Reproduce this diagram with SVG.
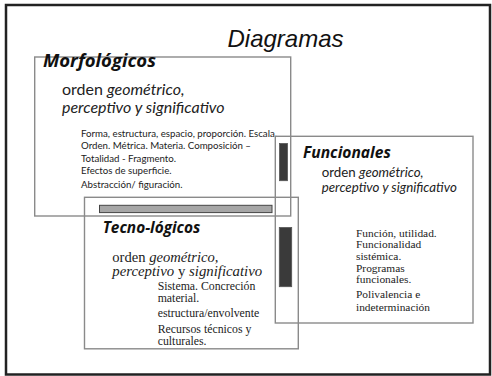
<svg xmlns="http://www.w3.org/2000/svg" width="492" height="376" viewBox="0 0 492 376">
<style>
.box{fill:none;stroke:#8a8a8a;stroke-width:1.4}
.h{font-family:"Open Sans",Lato,sans-serif;font-weight:bold;font-style:italic;fill:#111}
.s{font-family:Lato,"Liberation Sans",sans-serif;fill:#222}
.sf{font-family:"Liberation Serif",serif;fill:#222}
.i{font-style:italic}
</style>
<rect x="6" y="5" width="484" height="369.5" fill="#fff" stroke="#222" stroke-width="2.5"/>
<text x="227.5" y="47.3" font-family="'Liberation Sans',Arial,sans-serif" font-style="italic" font-size="24" fill="#111">Diagramas</text>
<g id="morfologicos">
<rect class="box" x="34.7" y="57" width="256" height="159"/>
<text class="h" x="43" y="67" font-size="18.5">Morfológicos</text>
<text class="s" x="62" y="95" font-size="16">orden <tspan class="i">geométrico,</tspan></text>
<text class="s i" x="62" y="113" font-size="16">perceptivo y significativo</text>
<g class="s" font-size="9.7">
<text x="81" y="136.7">Forma, estructura, espacio, proporción. Escala.</text>
<text x="81" y="149.3">Orden. Métrica. Materia. Composición –</text>
<text x="81" y="161.7">Totalidad - Fragmento.</text>
<text x="81" y="174.3">Efectos de superficie.</text>
<text x="81" y="187.7">Abstracción/  figuración.</text>
</g>
</g>
<g id="funcionales">
<rect class="box" x="275.3" y="136.3" width="197.7" height="186.7"/>
<text class="h" x="303" y="158.3" font-size="15.6">Funcionales</text>
<text class="s" x="321.7" y="177.3" font-size="13.3">orden <tspan class="i">geométrico,</tspan></text>
<text class="s i" x="321.7" y="191.7" font-size="13.3">perceptivo y significativo</text>
<g class="sf" font-size="11.4">
<text x="356" y="236.7">Función, utilidad.</text>
<text x="356" y="248.3">Funcionalidad</text>
<text x="356" y="260">sistémica.</text>
<text x="356" y="271.7">Programas</text>
<text x="356" y="283.3">funcionales.</text>
<text x="356" y="298.3">Polivalencia e</text>
<text x="356" y="310.7">indeterminación</text>
</g>
</g>
<g id="tecnologicos">
<rect class="box" x="84.5" y="197.3" width="213.8" height="151.5"/>
<text class="h" x="102.7" y="233.3" font-size="15.4">Tecno-lógicos</text>
<text class="sf" x="112.3" y="262.3" font-size="14.6">orden <tspan class="i">geométrico,</tspan></text>
<text class="sf i" x="112.3" y="275.7" font-size="14.8">perceptivo <tspan font-style="normal">y</tspan> significativo</text>
<g class="sf" font-size="11.8">
<text x="157.7" y="290.3">Sistema. Concreción</text>
<text x="157.7" y="301.9">material.</text>
<text x="157.7" y="317.3">estructura/envolvente</text>
<text x="157.7" y="332.7">Recursos técnicos y</text>
<text x="157.7" y="345">culturales.</text>
</g>
</g>
<g id="connectors">
<rect x="99.5" y="205.3" width="172.5" height="7.3" fill="#a6a6a6" stroke="#444" stroke-width="1"/>
<rect x="279.5" y="143.5" width="8" height="37.2" fill="#3a3a3a" stroke="#555" stroke-width="0.8"/>
<rect x="279.3" y="227.5" width="12.4" height="59.2" fill="#3a3a3a" stroke="#555" stroke-width="0.8"/>
</g>
</svg>
